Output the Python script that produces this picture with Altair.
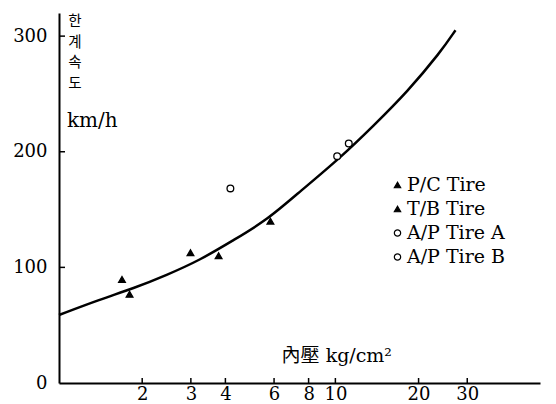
import altair as alt
import pandas as pd

# ---- data ----
curve_x = [1.0, 1.41, 1.86, 2.45, 3.24, 4.28, 5.66, 7.47, 10.43, 13.8, 18.2, 24.0, 27.2]
curve_y = [58.8, 72.3, 81.8, 93.3, 106.3, 123.6, 140.9, 165.9, 194.9, 223, 251.8, 286.1, 305.1]

series_names = ["P/C Tire", "T/B Tire", "A/P Tire A", "A/P Tire B"]
pt_series = ["P/C Tire", "P/C Tire", "T/B Tire", "T/B Tire", "T/B Tire",
             "A/P Tire A", "A/P Tire B", "A/P Tire B"]
pt_x = [1.69, 2.99, 1.80, 3.78, 5.82, 4.17, 10.15, 11.18]
pt_y = [89.6, 112.6, 76.7, 110.0, 140.0, 168.3, 196.2, 207.2]

x_tick_values = [2, 3, 4, 6, 8, 10, 20, 30]
y_tick_values = [0, 100, 200, 300]

y_title_chars = ["한", "계", "속", "도"]
y_unit_text = "km/h"
x_title_text = "內壓  kg/cm²"

# ---- layout / style ----
W, H = 481, 370
SERIF = "DejaVu Serif"
MIXED = "'DejaVu Serif', 'Noto Sans CJK KR'"

xscale = alt.Scale(type="log", domain=[1, 55])
yscale = alt.Scale(domain=[0, 320], nice=False)

curve_df = pd.DataFrame({"x": curve_x, "y": curve_y})
pts_df = pd.DataFrame({"series": pt_series, "x": pt_x, "y": pt_y})

x_axis = alt.Axis(values=x_tick_values, title=None, format="d", ticks=False, grid=False,
                  domain=True, domainColor="black", domainWidth=2,
                  labelFont=SERIF, labelFontSize=18, labelColor="black",
                  labelPadding=2, labelFlush=False, labelOverlap=False)
y_axis = alt.Axis(values=y_tick_values, title=None, ticks=False, grid=False,
                  domain=True, domainColor="black", domainWidth=2,
                  labelFont=SERIF, labelFontSize=18, labelColor="black",
                  labelPadding=12, labelFlush=False, labelOverlap=False)

curve = alt.Chart(curve_df).mark_line(color="black", strokeWidth=2.5, interpolate="basis").encode(
    x=alt.X("x:Q", scale=xscale, axis=x_axis),
    y=alt.Y("y:Q", scale=yscale, axis=y_axis),
)

points = alt.Chart(pts_df).mark_point(strokeWidth=1.3, size=45, opacity=1).encode(
    x=alt.X("x:Q", scale=xscale, axis=x_axis),
    y=alt.Y("y:Q", scale=yscale, axis=y_axis),
    shape=alt.Shape("series:N", title=None,
                    scale=alt.Scale(domain=series_names,
                                    range=["triangle-up", "triangle-up", "circle", "circle"])),
    fill=alt.Fill("series:N", title=None,
                  scale=alt.Scale(domain=series_names,
                                  range=["black", "black", "white", "white"])),
    stroke=alt.Stroke("series:N", title=None,
                      scale=alt.Scale(domain=series_names,
                                      range=["black", "black", "black", "black"])),
)

ytick_df = pd.DataFrame({"v": y_tick_values[1:]})
xtick_df = pd.DataFrame({"v": x_tick_values})

y_ticks = alt.Chart(ytick_df).mark_rule(color="black", strokeWidth=1.5).encode(
    y=alt.Y("v:Q", scale=yscale, axis=y_axis),
    x=alt.value(0), x2=alt.value(6),
)
x_ticks = alt.Chart(xtick_df).mark_rule(color="black", strokeWidth=1.5).encode(
    x=alt.X("v:Q", scale=xscale, axis=x_axis),
    y=alt.value(H), y2=alt.value(H - 5),
)

y_title = alt.Chart(pd.DataFrame({"c": y_title_chars, "i": list(range(len(y_title_chars)))})).transform_calculate(
    py="datum.i * 20.5 + 9"
).mark_text(
    font="Noto Sans CJK KR", fontSize=14.5, align="center", baseline="middle", color="black",
).encode(text="c:N", x=alt.value(16), y=alt.Y("py:Q", scale=None, axis=None))

y_unit = alt.Chart(pd.DataFrame({"t": [y_unit_text]})).mark_text(
    font=SERIF, fontSize=20, align="left", baseline="middle", color="black",
).encode(text="t:N", x=alt.value(8), y=alt.value(108))

x_title = alt.Chart(pd.DataFrame({"t": [x_title_text]})).mark_text(
    font=MIXED, fontSize=19, align="right", baseline="alphabetic", color="black",
).encode(text="t:N", x=alt.value(333), y=alt.value(349))

chart = alt.layer(curve, y_ticks, x_ticks, points, y_title, y_unit, x_title).properties(
    width=W, height=H,
    autosize=alt.AutoSizeParams(type="none"),
    padding={"left": 51, "top": 5, "right": 8, "bottom": 23},
    background="white",
).configure_view(stroke=None).configure_legend(
    orient="none", legendX=329, legendY=162.5, padding=0,
    labelFont=SERIF, labelFontSize=19, labelColor="black", labelOffset=0,
    symbolSize=40, symbolStrokeWidth=1.2,
    rowPadding=4, titlePadding=0,
)

chart.save("out.html", embed_options={"renderer": "svg", "actions": False})
